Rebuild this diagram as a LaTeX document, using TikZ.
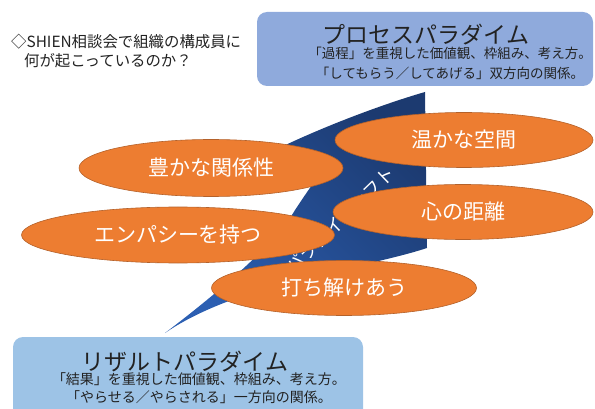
\documentclass[tikz,border=0pt]{standalone}
\usepackage{fontspec}
\setmainfont{Noto Sans CJK JP}
\usepackage{tikz}
\usetikzlibrary{shapes.geometric,positioning}
\definecolor{procblue}{HTML}{8FAADC}
\definecolor{resblue}{HTML}{9DC3E6}
\definecolor{bubblefill}{HTML}{ED7D31}
\definecolor{bubbleline}{HTML}{B4612A}
\definecolor{arrowdark}{HTML}{1C3A70}
\definecolor{arrowmid}{HTML}{4F8AD6}
\definecolor{arrowlow}{HTML}{2C5FB2}
\definecolor{inktext}{HTML}{222222}

\begin{document}
\begin{tikzpicture}[x=1pt, y=-1pt,
    paradigm/.style={rectangle, rounded corners=10pt, inner sep=0pt},
    ptitle/.style={inner sep=0pt, text=inktext, font=\fontsize{23}{26}\selectfont},
    psub/.style={inner sep=0pt, text=inktext, align=center},
    bubble/.style={ellipse, fill=bubblefill, draw=bubbleline, line width=0.6pt,
    inner sep=0pt, text=white, font=\fontsize{21}{24}\selectfont},
    shift arrow/.style={top color=arrowdark, middle color=arrowmid, bottom color=arrowlow, shading angle=-45}]
    \useasboundingbox (0,0) rectangle (595,409);

    \node (question) [anchor=west, inner sep=0pt, align=left, text=inktext, font=\fontsize{15.4}{19}\selectfont] at (11,51)
    {◇SHIEN相談会で組織の構成員に\\ \hspace{13pt}何が起こっているのか？};

    \node (process) [paradigm, fill=procblue, minimum width=336pt, minimum height=74pt] at (425,49) {};
    \node (procTitle) [ptitle] at (426,35) {プロセスパラダイム};
    \node (procText) [psub, font=\fontsize{13.5}{20}\selectfont, below=1pt of procTitle, xshift=24pt]
    {「過程」を重視した価値観、枠組み、考え方。\\「してもらう／してあげる」双方向の関係。};

    \node (result) [paradigm, fill=resblue, minimum width=350pt, minimum height=90pt] at (188,382) {};
    \node (resTitle) [ptitle] at (185,362) {リザルトパラダイム};
    \node (resText) [psub, font=\fontsize{14}{18}\selectfont, below=0pt of resTitle, xshift=14pt]
    {「結果」を重視した価値観、枠組み、考え方。\\「やらせる／やらされる」一方向の関係。};

    \shade [shift arrow] (165,333) .. controls (215,295) and (275,245) .. (295,210)
        .. controls (305,195) and (315,180) .. (325,168) -- (275,150)
        .. controls (320,128) and (380,105) .. (425,92) -- (427,248)
        .. controls (360,270) and (240,282) .. (165,333) -- cycle;
    \node (shiftText) [rotate=44, inner sep=0pt, text=white, font=\fontsize{18}{20}\selectfont] at (340,220) {パラダイムシフト};

    \node (rich) [bubble, minimum width=264pt, minimum height=57pt] at (211,168) {豊かな関係性};
    \node (warm) [bubble, minimum width=258pt, minimum height=55pt] at (464,140) {温かな空間};
    \node (empathy) [bubble, minimum width=313pt, minimum height=56pt] at (178,235) {エンパシーを持つ};
    \node (distance) [bubble, minimum width=260pt, minimum height=55pt] at (463,212) {心の距離};
    \node (relax) [bubble, minimum width=265pt, minimum height=55pt] at (344,288) {打ち解けあう};
\end{tikzpicture}
\end{document}
